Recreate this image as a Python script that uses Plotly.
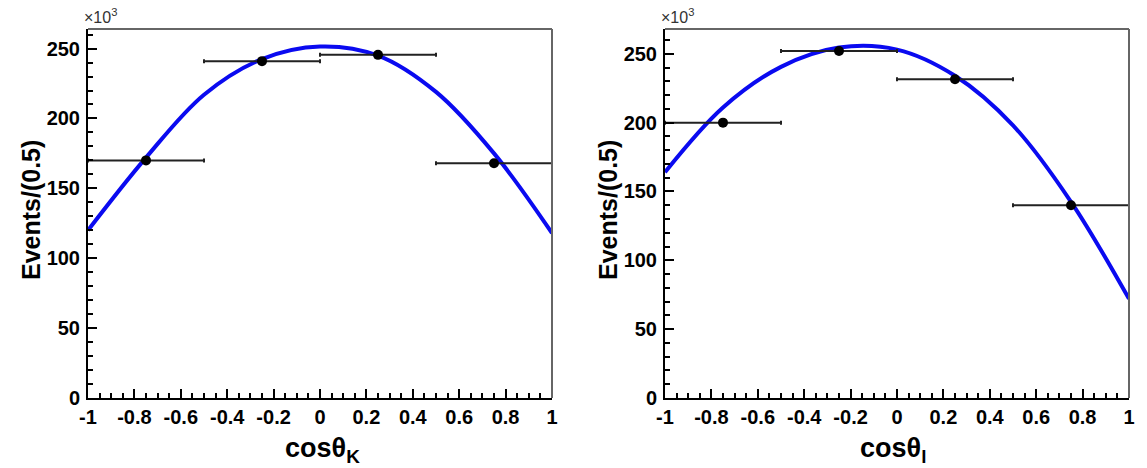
import plotly.graph_objects as go

# bin centres and half widths (cos theta)
bin_centres = [-0.75, -0.25, 0.25, 0.75]
bin_half = [0.25, 0.25, 0.25, 0.25]

# events per bin, in units of 10^3
events_k = [170, 241, 245.5, 168]
events_l = [200, 252, 231.5, 140]

# fitted curve (units of 10^3)
fit_x = [-1, -0.75, -0.5, -0.25, 0, 0.25, 0.5, 0.75, 1]
fit_k = [120, 172, 217, 242.5, 251.5, 245, 219, 175, 118]
fit_l = [164, 211, 240.5, 254.5, 253, 234, 198, 142.5, 72]

x_ticks = [-1, -0.8, -0.6, -0.4, -0.2, 0, 0.2, 0.4, 0.6, 0.8, 1]
x_labels = ["-1", "-0.8", "-0.6", "-0.4", "-0.2", "0", "0.2", "0.4", "0.6", "0.8", "1"]
y_ticks = [0, 50, 100, 150, 200, 250]
y_labels = ["0", "50", "100", "150", "200", "250"]
y_max = [264, 268]

FONT = "Liberation Sans"
BLUE = "#0a0af0"

# the page body adds an 8px margin, so the figure is a bit smaller
OFF = 8
W, H = 1147 - OFF, 468 - OFF

def px(x):
    return (x - OFF) / W

def py(y):
    return (H - (y - OFF)) / H

fig = go.Figure()

panels = [(fit_k, events_k, "x", "y"), (fit_l, events_l, "x2", "y2")]
for fit, ev, xa, ya in panels:
    fig.add_trace(go.Scatter(
        x=fit_x, y=fit, mode="lines",
        line=dict(color=BLUE, width=4, shape="spline"),
        xaxis=xa, yaxis=ya, showlegend=False, hoverinfo="skip"))
    fig.add_trace(go.Scatter(
        x=bin_centres, y=ev, mode="markers",
        marker=dict(color="black", size=10),
        error_x=dict(type="data", array=bin_half, color="#222222",
                     thickness=2, width=2),
        xaxis=xa, yaxis=ya, showlegend=False))

xdom = [[px(88), px(552)], [px(665), px(1129)]]
ydom = [py(398), py(29)]

tickfont = dict(family=FONT, size=20, color="black", weight="bold")

def xaxis(i):
    return dict(
        domain=xdom[i], range=[-1, 1],
        tickmode="array", tickvals=x_ticks, ticktext=x_labels, tickangle=0,
        ticks="inside", ticklen=9, tickwidth=2, tickcolor="black",
        minor=dict(dtick=0.05, tick0=-1, ticks="inside", ticklen=5,
                   tickwidth=2, tickcolor="black"),
        showline=True, linecolor="black", linewidth=2,
        showgrid=False, zeroline=False, tickfont=tickfont,
        automargin=False, ticklabelstandoff=0,
        anchor="y" if i == 0 else "y2")

def yaxis(i):
    return dict(
        domain=ydom, range=[0, y_max[i]],
        tickmode="array", tickvals=y_ticks, ticktext=y_labels,
        ticks="inside", ticklen=9, tickwidth=2, tickcolor="black",
        minor=dict(dtick=10, tick0=0, ticks="inside", ticklen=5,
                   tickwidth=2, tickcolor="black"),
        showline=True, linecolor="black", linewidth=2,
        showgrid=False, zeroline=False, tickfont=tickfont,
        automargin=False, ticklabelstandoff=2,
        anchor="x" if i == 0 else "x2")

shapes = []
annotations = []
for i, (xr, yr) in enumerate([("x domain", "y domain"), ("x2 domain", "y2 domain")]):
    # grey frame on top and right, like the ROOT canvas
    shapes.append(dict(type="line", xref=xr, yref=yr, x0=0, x1=1, y0=1, y1=1,
                       line=dict(color="#666666", width=2)))
    shapes.append(dict(type="line", xref=xr, yref=yr, x0=1, x1=1, y0=0, y1=1,
                       line=dict(color="#666666", width=2)))
    x_left = [88, 665][i]
    annotations.append(dict(
        text="Events/(0.5)", xref="paper", yref="paper",
        x=px(x_left - 57), y=py(210), textangle=-90,
        showarrow=False, xanchor="center", yanchor="middle",
        font=dict(family=FONT, size=25, color="black", weight="bold")))
    annotations.append(dict(
        text="×10<sup>3</sup>", xref="paper", yref="paper",
        x=px(x_left - 6), y=py(28),
        showarrow=False, xanchor="left", yanchor="bottom",
        font=dict(family=FONT, size=16, color="#333333")))

for i, title in enumerate(["cosθ<sub>K</sub>", "cosθ<sub>l</sub>"]):
    annotations.append(dict(
        text=title, xref="paper", yref="paper",
        x=px([322, 893][i]), y=py(450), showarrow=False,
        xanchor="center", yanchor="middle",
        font=dict(family=FONT, size=27, color="black", weight="bold")))

fig.update_layout(
    width=W, height=H,
    margin=dict(l=0, r=0, t=0, b=0),
    paper_bgcolor="white", plot_bgcolor="white",
    xaxis=xaxis(0), yaxis=yaxis(0),
    xaxis2=xaxis(1), yaxis2=yaxis(1),
    shapes=shapes, annotations=annotations,
    showlegend=False,
)

fig.write_html("out.html")
